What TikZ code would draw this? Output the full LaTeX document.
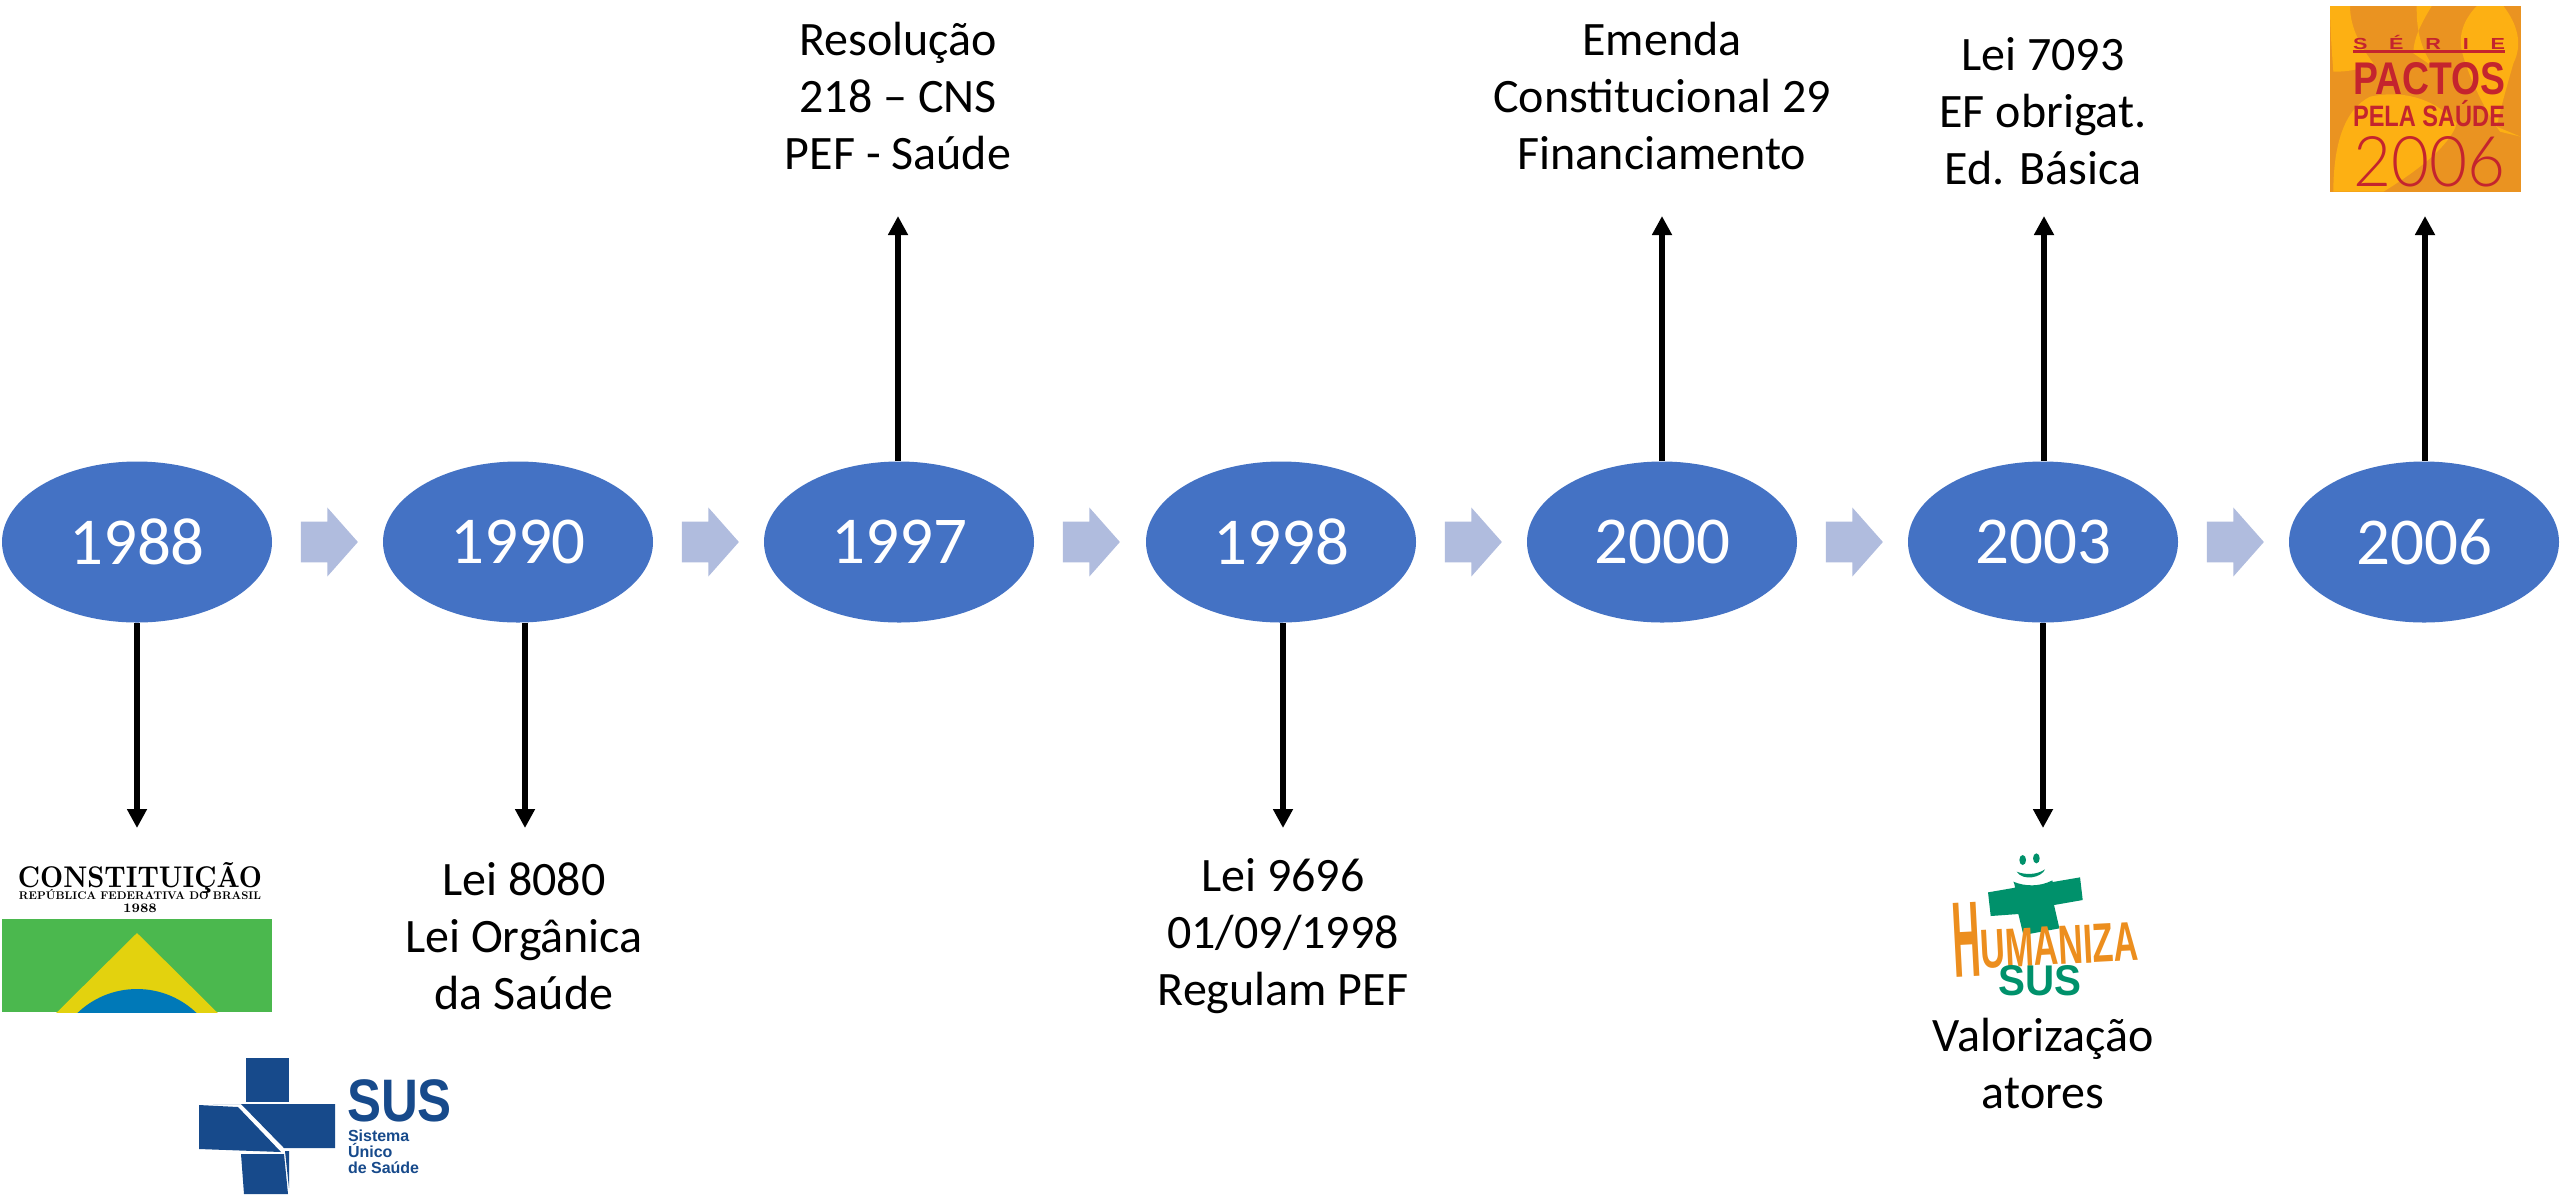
\documentclass[tikz,border=0pt]{standalone}
\usepackage{fontspec}
\usetikzlibrary{arrows.meta,shapes.geometric,shapes.arrows,calc}
\newfontfamily\calfont{Carlito}
\newfontfamily\susfont{Liberation Sans}
\newfontfamily\lightfont{Lato Light}
\definecolor{ellblue}{HTML}{4472C4}
\definecolor{blockblue}{HTML}{B0BCDE}
\definecolor{flaggreen}{HTML}{4BB84E}
\definecolor{flagyellow}{HTML}{E3D20E}
\definecolor{flagblue}{HTML}{0079B8}
\definecolor{susblue}{HTML}{174A8B}
\definecolor{humgreen}{HTML}{00916B}
\definecolor{humorange}{HTML}{EC8E1E}
\definecolor{pacyellow}{HTML}{FDB013}
\definecolor{pacorange}{HTML}{EA9321}
\definecolor{pacred}{HTML}{C4242E}
\tikzset{
  year/.style={ellipse,fill=ellblue,draw=none,inner sep=0pt,minimum width=135pt,minimum height=80.5pt,text=white,font=\calfont\fontsize{33.5pt}{40pt}\selectfont},
  blockarrow/.style={single arrow,fill=blockblue,draw=none,inner sep=0pt,minimum height=28.5pt,minimum width=34pt,single arrow head extend=7pt,single arrow tip angle=97,anchor=tip},
  conn/.style={line width=3pt,-{Stealth[length=9.5pt,width=9.5pt,inset=0pt]}},
  label/.style={align=center,inner sep=0pt,font=\calfont\fontsize{24pt}{28.5pt}\selectfont},
  logotext/.style={inner sep=0pt,outer sep=0pt},
}
\newcommand{\shaftbox}{\rule{0pt}{20pt}}
\newcommand{\wideletter}[1]{\scalebox{1.35}[1]{#1}}
\begin{document}
\begin{tikzpicture}[x=0.5pt,y=-0.5pt]
\useasboundingbox (0,0) rectangle (2560,1196);
\fill[white] (0,0) rectangle (2560,1196);
% ellipses
\node[year] (e1) at (137,542) {1988};
\node[year] (e2) at (518,542) {1990};
\node[year] (e3) at (899,542) {1997};
\node[year] (e4) at (1281,542) {1998};
\node[year] (e5) at (1662,542) {2000};
\node[year] (e6) at (2043,542) {2003};
\node[year] (e7) at (2424,542) {2006};
% block arrows
\node[blockarrow] (b1) at ($(e1.east)+(86,0)$) {\shaftbox};
\node[blockarrow] (b2) at ($(e2.east)+(86,0)$) {\shaftbox};
\node[blockarrow] (b3) at ($(e3.east)+(86,0)$) {\shaftbox};
\node[blockarrow] (b4) at ($(e4.east)+(86,0)$) {\shaftbox};
\node[blockarrow] (b5) at ($(e5.east)+(86,0)$) {\shaftbox};
\node[blockarrow] (b6) at ($(e6.east)+(86,0)$) {\shaftbox};
% labels
\node[label] (t3) at (898,96) {Resolução\\218 – CNS\\PEF - Saúde};
\node[label] (t5) at (1662,96) {Emenda\\Constitucional 29\\Financiamento};
\node[label] (t6) at (2043,111) {Lei 7093\\EF obrigat.\\Ed. Básica};
\node[label] (t2) at (524,936) {Lei 8080\\Lei Orgânica\\da Saúde};
\node[label] (t4) at (1283,936) {Lei 9696\\01/09/1998\\Regulam PEF};
\node[label] (t8) at (2043,1063) {Valorização\\atores};
% connector ends
\coordinate (d1) at (137,828);
\coordinate (d2) at (525,828);
\coordinate (d4) at (1283,828);
\coordinate (d6) at (2043,828);
\coordinate (u3) at (898,216);
\coordinate (u5) at (1662,216);
\coordinate (u6) at (2044,216);
\coordinate (u7) at (2425,216);
\draw[conn] (e1.south -| d1) -- (d1);
\draw[conn] (e2.south -| d2) -- (d2);
\draw[conn] (e4.south -| d4) -- (d4);
\draw[conn] (e6.south -| d6) -- (d6);
\draw[conn] (e3.north -| u3) -- (u3);
\draw[conn] (e5.north -| u5) -- (u5);
\draw[conn] (e6.north -| u6) -- (u6);
\draw[conn] (e7.north -| u7) -- (u7);
% Constituicao logo
\node[logotext,anchor=base] (c1) at (140,887) {\resizebox{122pt}{12.5pt}{\bfseries CONSTITUIÇÃO}};
\node[logotext,anchor=base] (c2) at (140,899) {\resizebox{121pt}{!}{\bfseries REPÚBLICA FEDERATIVA DO BRASIL}};
\node[logotext,anchor=base] (c3) at (140,912) {\fontsize{6.5pt}{7pt}\selectfont\bfseries 1988};
\begin{scope}
\clip (2,919) rectangle (272,1012);
\fill[flaggreen] (2,919) rectangle (272,1012);
\fill[flagyellow] (137,933) -- (240,1035) -- (34,1035) -- cycle;
\fill[flagblue] (137,1075) ellipse [x radius=86,y radius=86];
\end{scope}
% SUS logo
\fill[susblue] (246,1058) rectangle (289,1102);
\fill[susblue] (213,1104) -- (335,1104) -- (335,1148) -- (284,1148) -- (241,1104) -- cycle;
\fill[susblue] (199,1105) -- (238,1107) -- (281,1152) -- (199,1149) -- cycle;
\fill[susblue] (241,1154) -- (284,1154) -- (288,1194) -- (244,1194) -- cycle;
\fill[susblue] (285,1151) -- (289,1151) -- (289,1188) -- cycle;
\node[logotext,anchor=base west,text=susblue] (s1) at (347,1121) {\susfont\bfseries\scalebox{.85}[1]{\fontsize{30pt}{30pt}\selectfont SUS}};
\node[logotext,anchor=north west,align=left,text=susblue,font=\susfont\bfseries\fontsize{8pt}{8pt}\selectfont] (s2) at (348,1130) {Sistema\\Único\\de Saúde};
% Humaniza logo
\begin{scope}[shift={(1900,840)},x=0.1667pt,y=-0.1667pt]
\fill[humgreen] (264,157) -- (345,143) .. controls (345,135) and (342,130) .. (340,125) .. controls (375,140) and (420,140) .. (455,122) .. controls (455,118) and (458,122) .. (458,126) -- (540,112) -- (548,180) -- (462,195) -- (478,265) -- (370,285) -- (355,222) -- (272,228) -- cycle;
\fill[humgreen] (368,60) ellipse [x radius=10,y radius=15];
\fill[humgreen] (409,55) ellipse [x radius=10,y radius=15];
\fill[humgreen] (350,95) .. controls (375,105) and (410,105) .. (435,88) .. controls (425,112) and (370,125) .. (350,95) -- cycle;
\end{scope}
\node[logotext,text=humorange,rotate=3] (h1) at (2045,936) {\susfont\bfseries\raisebox{-4pt}{\resizebox{14pt}{37pt}{H}}\resizebox{79pt}{19pt}{UMANIZA}};
\node[logotext,text=humgreen] (h2) at (2040,981) {\susfont\bfseries\resizebox{41.5pt}{15pt}{SUS}};
% Pactos logo
\begin{scope}
\clip (2330,6) rectangle (2521,192);
\fill[pacorange] (2330,6) rectangle (2521,192);
\begin{scope}[shift={(2300,0)},x=0.1667pt,y=-0.1667pt]
\fill[pacyellow] (90,18) -- (150,18) .. controls (150,90) and (190,150) .. (220,190) .. controls (170,215) and (120,215) .. (100,215) .. controls (95,150) and (90,80) .. (90,18) -- cycle;
\fill[pacyellow] (350,18) -- (395,18) .. controls (370,60) and (340,110) .. (340,160) -- (400,200) .. controls (350,130) and (350,60) .. (350,18) -- cycle;
\fill[pacyellow] (530,18) -- (610,18) .. controls (650,70) and (670,130) .. (640,190) .. controls (620,260) and (600,330) .. (590,380) -- (662,410) -- (600,395) .. controls (560,340) and (510,240) .. (490,170) .. controls (470,110) and (490,60) .. (530,18) -- cycle;
\fill[pacyellow] (100,575) .. controls (100,440) and (130,330) .. (210,290) .. controls (300,270) and (400,290) .. (470,370) .. controls (450,440) and (340,520) .. (250,575) -- cycle;
\end{scope}
\end{scope}
\node[logotext,text=pacred] (p1) at (2429,42) {\susfont\bfseries\fontsize{8pt}{8pt}\selectfont\makebox[76pt][s]{\wideletter{S}\hfill\wideletter{É}\hfill\wideletter{R}\hfill\wideletter{I}\hfill\wideletter{E}}};
\draw[pacred,line width=1.5pt] (2353,51) -- (2505,51);
\node[logotext,text=pacred] (p2) at (2429,79) {\susfont\bfseries\resizebox{76pt}{16pt}{PACTOS}};
\node[logotext,text=pacred] (p3) at (2429,114) {\susfont\bfseries\resizebox{76pt}{!}{\scalebox{.8}[1]{PELA SAÚDE}}};
\node[logotext,text=pacred] (p4) at (2429,162) {\resizebox{76pt}{25pt}{\lightfont 2006}};
\end{tikzpicture}
\end{document}
